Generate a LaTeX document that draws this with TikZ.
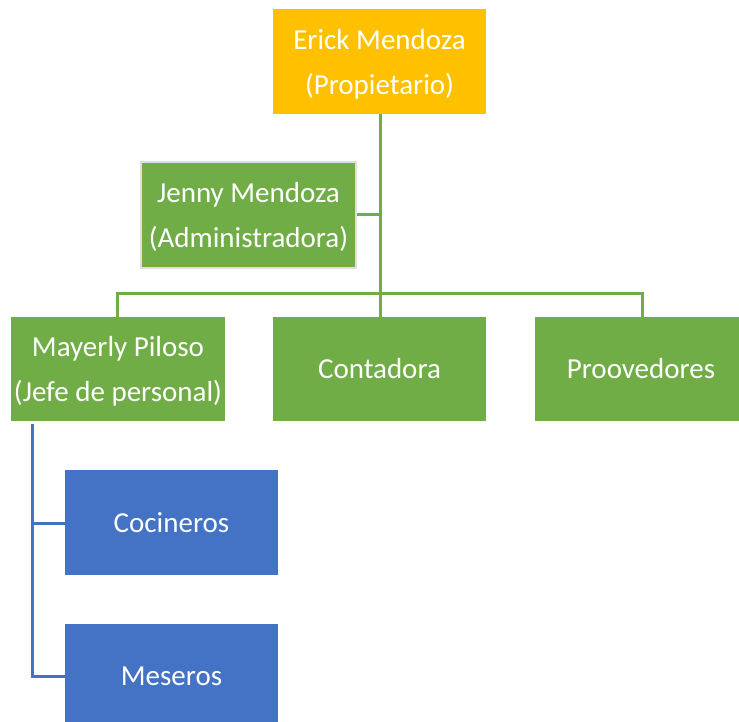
\documentclass[tikz,border=0pt]{standalone}
\usepackage{fontspec}
\setmainfont{Carlito}
\definecolor{gold}{HTML}{FFC000}
\definecolor{grn}{HTML}{70AD47}
\definecolor{blu}{HTML}{4472C4}
\begin{document}
\begin{tikzpicture}[x=1pt,y=-1pt,
  box/.style={inner sep=0pt, text=white, align=center,
    font=\fontsize{29}{45}\selectfont},
  gline/.style={draw=grn, line width=3pt},
  bline/.style={draw=blu, line width=3pt}]
\useasboundingbox (0,0) rectangle (739,722);
\fill[gold] (273,9) rectangle (486,114);
\node[box] (erick) at (379.5,64) {Erick Mendoza\\(Propietario)};
\coordinate (erickS) at (380,114);
\filldraw[fill=grn, draw=gray!25, line width=2pt] (141,162) rectangle (356,268);
\node[box] (jenny) at (248.5,217) {Jenny Mendoza\\(Administradora)};
\coordinate (jennyE) at (357,215);
\fill[grn] (11,317) rectangle (225,421);
\node[box] (mayerly) at (118,371) {Mayerly Piloso\\(Jefe de personal)};
\fill[grn] (273,317) rectangle (486,421);
\node[box] (conta) at (379.5,369) {Contadora};
\fill[grn] (535,317) rectangle (739,421);
\node[box] (proo) at (641,369) {Proovedores};
\fill[blu] (65,470) rectangle (278,575);
\node[box] (coci) at (171.5,522.5) {Cocineros};
\fill[blu] (65,624) rectangle (278,722);
\node[box] (mese) at (171.5,676) {Meseros};
\coordinate (j1) at (380,215);
\coordinate (hb) at (380,293);
\coordinate (hl) at (117,293);
\coordinate (hr) at (642,293);
\coordinate (mT) at (117,317);
\coordinate (cT) at (380,317);
\coordinate (pT) at (642,317);
\coordinate (mS) at (32,424);
\coordinate (b1) at (32,523);
\coordinate (b2) at (32,676);
\coordinate (cW) at (65,523);
\coordinate (sW) at (65,676);
\draw[gline] (erickS) -- (hb) -- (cT);
\draw[gline] (jennyE) -- (j1);
\draw[gline] (mT) -- (hl) -- (hr) -- (pT);
\draw[bline] (mS) -- (b2) -- (sW);
\draw[bline] (b1) -- (cW);
\end{tikzpicture}
\end{document}
